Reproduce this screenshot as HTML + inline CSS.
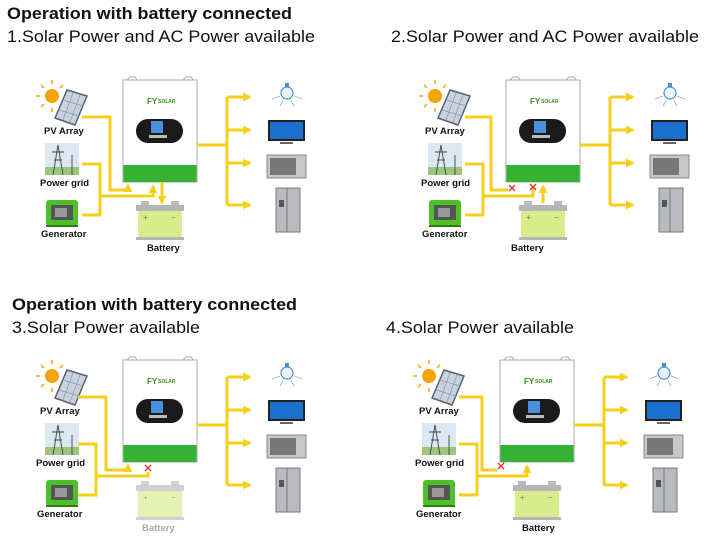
<!DOCTYPE html>
<html><head><meta charset="utf-8"><style>
html,body{margin:0;padding:0;background:#fff;width:723px;height:544px;overflow:hidden}
svg{display:block}
text{font-family:"Liberation Sans",Arial,sans-serif}
.t{font-weight:bold;font-size:17px;fill:#111}
.s{font-size:16.5px;fill:#111}
.l{font-weight:bold;font-size:9.5px;fill:#111}
.y{stroke:#f7cf1a;stroke-width:3;fill:none}
.x{stroke:#e03020;stroke-width:1.3}
</style></head><body>
<svg width="723" height="544" viewBox="0 0 723 544" xmlns="http://www.w3.org/2000/svg">
<defs>
<marker id="ar" viewBox="0 0 10 10" refX="8" refY="5" markerWidth="3" markerHeight="3" orient="auto"><path d="M0,0L10,5L0,10z" fill="#f7cf1a"/></marker>
<g id="base">
 <circle cx="52" cy="96" r="7" fill="#f5a40c"/>
 <g stroke="#f5a40c" stroke-width="1.5"><path d="M52 84v-4M52 108v4M40 96h-4M64 96h4M44 88l-3-3M60 88l3-3M44 104l-3 3"/></g>
 <path d="M67 90 L87 96 L75 125 L55 118 Z" fill="#c9d3e0" stroke="#5a6270" stroke-width="1.5"/>
 <path d="M63 100l20 6M59 110l20 6M73 93l-10 27M80 95l-10 27" stroke="#8a94a6" stroke-width="0.7"/>
 <rect x="45" y="143" width="34" height="32" fill="#dbe8f2"/>
 <rect x="45" y="167" width="34" height="8" fill="#9cc47a"/>
 <path d="M58 145l-5 30M58 145l5 30M52 152h12M54 160h8M72 155v20" stroke="#444" stroke-width="0.9" fill="none"/>
 <rect x="46" y="200" width="32" height="26" rx="3" fill="#4fbf2a"/>
 <rect x="51" y="205" width="22" height="15" fill="#555"/>
 <rect x="55" y="208" width="12" height="9" fill="#999"/>
 <path d="M46 226h32" stroke="#2a7a10" stroke-width="2"/>
 <rect x="123" y="80" width="74" height="102" fill="#fff" stroke="#aaa" stroke-width="1"/>
 <path d="M127 80l3-3h5l2 3M183 80l3-3h5l2 3" stroke="#aaa" fill="none"/>
 <rect x="123.5" y="165" width="73" height="17" fill="#34b233"/>
 <rect x="136" y="119" width="47" height="24" rx="12" fill="#1a1a1a"/>
 <rect x="151" y="121" width="12" height="12" fill="#4a8ee0"/>
 <rect x="149" y="135" width="18" height="3" fill="#bbb"/>
 <text x="147" y="104" font-size="8" font-weight="bold" fill="#2f8f1f" font-family="Liberation Serif,serif">FY</text>
 <text x="158" y="103" font-size="5" font-weight="bold" fill="#2f8f1f" font-family="Liberation Serif,serif">SOLAR</text>
 <rect x="141" y="201" width="8" height="5" fill="#bbb"/><rect x="171" y="201" width="8" height="5" fill="#bbb"/>
 <rect x="136" y="205" width="48" height="6" fill="#b5b5b5"/>
 <rect x="138" y="211" width="44" height="26" fill="#d8ec8c"/>
 <rect x="136" y="237" width="48" height="3" fill="#b5b5b5"/>
 <text x="143" y="220" font-size="8" fill="#777">+</text><text x="171" y="220" font-size="8" fill="#777">−</text>
 <path class="y" d="M197 145H227M227 97V205"/>
 <path class="y" d="M227 97H250" marker-end="url(#ar)"/><path class="y" d="M227 130H250" marker-end="url(#ar)"/><path class="y" d="M227 163H250" marker-end="url(#ar)"/><path class="y" d="M227 205H250" marker-end="url(#ar)"/>
 <circle cx="287" cy="93" r="6" fill="#eaf4ff" stroke="#4a90d0" stroke-width="1.2"/>
 <rect x="285" y="83" width="4" height="4" fill="#4a90d0"/>
 <path d="M272 99l8-3M302 99l-8-3M280 106l3-5M294 106l-3-5" stroke="#9ab" stroke-width="0.8"/>
 <rect x="268" y="120" width="37" height="21" fill="#222"/>
 <rect x="270" y="122" width="33" height="17" fill="#1a6fcf"/>
 <rect x="280" y="142" width="13" height="2" fill="#666"/>
 <rect x="267" y="155" width="39" height="23" fill="#c8c8c8" stroke="#888"/>
 <rect x="270" y="158" width="26" height="17" fill="#777"/>
 <rect x="276" y="188" width="24" height="44" fill="#b8bcc0" stroke="#777"/>
 <path d="M287 188v44" stroke="#777"/>
 <rect x="279" y="200" width="5" height="7" fill="#555"/>
</g>
<g id="xm"><path class="x" d="M-3 -3L3 3M3 -3L-3 3"/></g>
</defs>

<text class="t" x="7" y="19" textLength="285" lengthAdjust="spacingAndGlyphs">Operation with battery connected</text>
<text class="s" x="7" y="42" textLength="308" lengthAdjust="spacingAndGlyphs">1.Solar Power and AC Power available</text>
<text class="s" x="391" y="42" textLength="308" lengthAdjust="spacingAndGlyphs">2.Solar Power and AC Power available</text>
<text class="t" x="12" y="310" textLength="285" lengthAdjust="spacingAndGlyphs">Operation with battery connected</text>
<text class="s" x="12" y="333" textLength="188" lengthAdjust="spacingAndGlyphs">3.Solar Power available</text>
<text class="s" x="386" y="333" textLength="188" lengthAdjust="spacingAndGlyphs">4.Solar Power available</text>

<g>
 <use href="#base"/>
 <path class="y" d="M82 117H110V190H128V185" marker-end="url(#ar)"/>
 <path class="y" d="M82 164H100V215H82M100 196H153V186" marker-end="url(#ar)"/>
 <path class="y" d="M162 182V203" marker-end="url(#ar)"/>
 <text class="l" x="44" y="134">PV Array</text>
 <text class="l" x="40" y="186">Power grid</text>
 <text class="l" x="41" y="237">Generator</text>
 <text class="l" x="147" y="251">Battery</text>
</g>
<g transform="translate(383,0)">
 <use href="#base"/>
 <path class="y" d="M82 117H108V190H125"/>
 <path class="y" d="M82 164H100V215H82M100 196H150V188"/>
 <use href="#xm" x="129" y="188"/><use href="#xm" x="150" y="187"/>
 <path class="y" d="M160 203V186" marker-end="url(#ar)"/>
 <text class="l" x="42" y="134">PV Array</text>
 <text class="l" x="38" y="186">Power grid</text>
 <text class="l" x="39" y="237">Generator</text>
 <text class="l" x="128" y="251">Battery</text>
</g>
<g transform="translate(0,280)">
 <use href="#base"/>
 <rect x="134" y="198" width="52" height="44" fill="#fff" opacity="0.35"/>
 <path class="y" d="M78 117H106V190H128V185" marker-end="url(#ar)"/>
 <path class="y" d="M78 164H96V215H78M96 196H148V192"/>
 <use href="#xm" x="148" y="188"/>
 <text class="l" x="40" y="134">PV Array</text>
 <text class="l" x="36" y="186">Power grid</text>
 <text class="l" x="37" y="237">Generator</text>
 <text class="l" x="142" y="251" style="fill:#aaa">Battery</text>
</g>
<g transform="translate(377,280)">
 <use href="#base"/>
 <path class="y" d="M82 117H105V190H120"/>
 <use href="#xm" x="124" y="186"/>
 <path class="y" d="M82 164H100V215H82M100 196H150V186" marker-end="url(#ar)"/>
 <text class="l" x="42" y="134">PV Array</text>
 <text class="l" x="38" y="186">Power grid</text>
 <text class="l" x="39" y="237">Generator</text>
 <text class="l" x="145" y="251">Battery</text>
</g>
</svg>
</body></html>
